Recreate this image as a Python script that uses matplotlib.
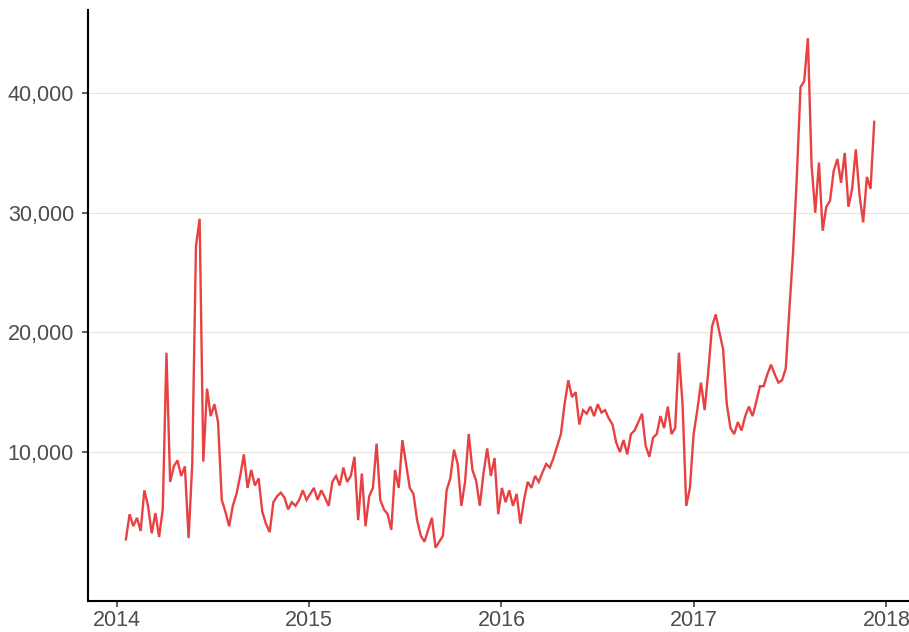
import pandas as pd
import matplotlib
matplotlib.use("Agg")
from matplotlib import pyplot as plt
from matplotlib import dates as mdates
from matplotlib.ticker import FuncFormatter

# weekly values (thousands), starting mid-January 2014
start = "2014-01-18"
values_k = [
    2.7, 4.8, 3.8, 4.5, 3.4, 6.8, 5.5, 3.2, 4.9, 2.9,
    5.2, 18.3, 7.5, 8.8, 9.3, 8.0, 8.8, 2.8, 9.0, 27.2,
    29.5, 9.2, 15.3, 13.0, 14.0, 12.5, 6.0, 5.0, 3.8, 5.5,
    6.5, 8.0, 9.8, 7.0, 8.5, 7.2, 7.8, 5.0, 4.0, 3.3,
    5.8, 6.3, 6.6, 6.2, 5.2, 5.8, 5.5, 6.0, 6.8, 6.0,
    6.5, 7.0, 6.0, 6.8, 6.2, 5.5, 7.5, 8.0, 7.2, 8.7,
    7.5, 8.0, 9.6, 4.3, 8.2, 3.8, 6.3, 7.0, 10.7, 6.0,
    5.2, 4.8, 3.5, 8.5, 7.0, 11.0, 9.0, 7.0, 6.5, 4.3,
    3.0, 2.5, 3.5, 4.5, 2.0, 2.5, 3.0, 6.8, 7.8, 10.2,
    9.0, 5.5, 7.5, 11.5, 8.5, 7.6, 5.5, 8.2, 10.3, 8.0,
    9.5, 4.8, 7.0, 5.8, 6.8, 5.5, 6.5, 4.0, 6.0, 7.5,
    7.0, 8.0, 7.5, 8.3, 9.0, 8.7, 9.5, 10.5, 11.5, 14.0,
    16.0, 14.6, 15.0, 12.3, 13.5, 13.2, 13.8, 13.0, 14.0, 13.3,
    13.5, 12.8, 12.3, 10.8, 10.0, 11.0, 9.8, 11.5, 11.8, 12.5,
    13.2, 10.5, 9.6, 11.2, 11.5, 13.0, 12.0, 13.8, 11.5, 12.0,
    18.3, 14.0, 5.5, 7.0, 11.5, 13.5, 15.8, 13.5, 16.8, 20.5,
    21.5, 20.0, 18.6, 14.0, 12.0, 11.5, 12.5, 11.8, 13.0, 13.8,
    13.0, 14.2, 15.5, 15.5, 16.5, 17.3, 16.5, 15.8, 16.0, 17.0,
    22.0, 26.8, 33.0, 40.5, 41.0, 44.6, 34.0, 30.0, 34.2, 28.5,
    30.5, 31.0, 33.5, 34.5, 32.5, 35.0, 30.5, 32.0, 35.3, 31.5,
    29.2, 33.0, 32.0, 37.6,
]
dates = pd.date_range(start, periods=len(values_k), freq="7D")
values = [v * 1000 for v in values_k]

y_ticks = [10000, 20000, 30000, 40000]
x_ticks = ["2014", "2015", "2016", "2017", "2018"]

fig = plt.figure(figsize=(9.09, 6.32), dpi=100)
ax = fig.add_axes([0.0968, 0.0495, 0.9032, 0.9347])

ax.plot(dates, values, color="#E84142", linewidth=1.7, solid_joinstyle="miter")

ax.set_yticks(y_ticks)
ax.yaxis.set_major_formatter(FuncFormatter(lambda v, p: f"{int(v):,}"))
ax.set_xticks([pd.Timestamp(y + "-01-01") for y in x_ticks])
ax.xaxis.set_major_formatter(mdates.DateFormatter("%Y"))

ax.set_ylim(-2430, 46950)
ax.set_xlim(pd.Timestamp("2013-11-07"), pd.Timestamp("2018-02-13"))

ax.grid(axis="y", color="#e4e4e4", linewidth=0.8)
ax.set_axisbelow(True)
for side in ["top", "right"]:
    ax.spines[side].set_visible(False)
for side in ["left", "bottom"]:
    ax.spines[side].set_color("black")
    ax.spines[side].set_linewidth(1.5)

ax.tick_params(axis="both", length=4, width=1.1, color="#333333",
               labelsize=15.5, labelcolor="#4d4d4d")
ax.tick_params(axis="y", pad=6)
ax.tick_params(axis="x", pad=2.5)
for lbl in ax.get_xticklabels() + ax.get_yticklabels():
    lbl.set_fontfamily("Liberation Sans")

fig.savefig("out.png", dpi=100)
